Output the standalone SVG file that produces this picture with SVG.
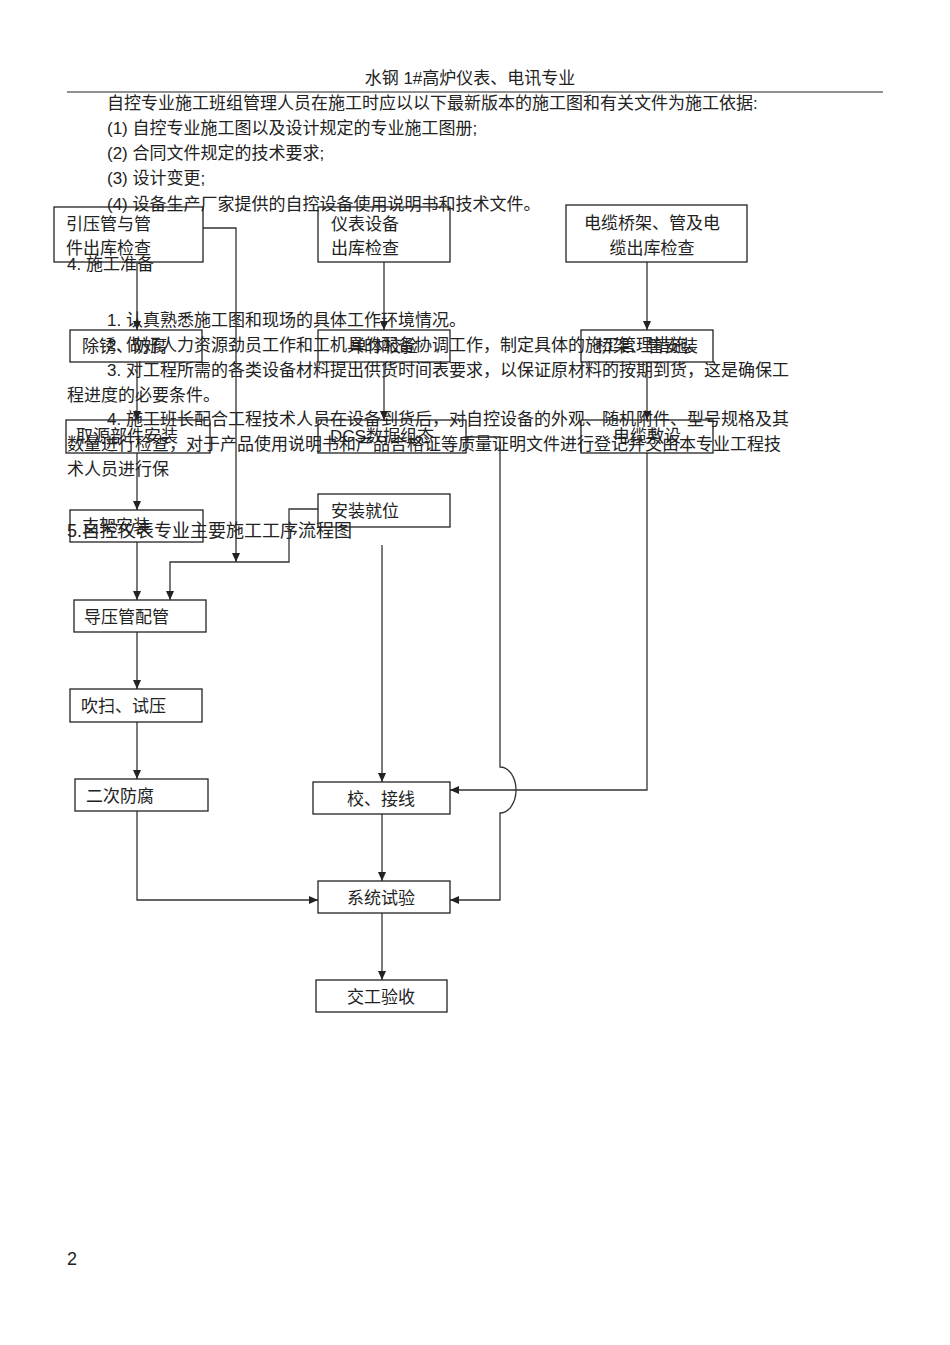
<svg xmlns="http://www.w3.org/2000/svg" width="950" height="1345" viewBox="0 0 950 1345">
<style>
text{font-family:"Liberation Sans","Noto Sans CJK SC",sans-serif;font-size:17px;fill:#222}
.b{fill:none;stroke:#222;stroke-width:1.3}
.c{fill:none;stroke:#333;stroke-width:1.3}
</style>
<defs><marker id="a" markerWidth="10" markerHeight="10" refX="9" refY="5" orient="auto" markerUnits="userSpaceOnUse"><path d="M0,1 L9,5 L0,9 z" fill="#222"/></marker></defs>
<rect width="950" height="1345" fill="#fff"/>
<g id="header">
<text x="470" y="84" text-anchor="middle">水钢 1#高炉仪表、电讯专业</text>
<line x1="67" y1="92" x2="883" y2="92" stroke="#222" stroke-width="1.2"/>
</g>
<g id="body">
<text x="107" y="109">自控专业施工班组管理人员在施工时应以以下最新版本的施工图和有关文件为施工依据:</text>
<text x="107" y="134">(1) 自控专业施工图以及设计规定的专业施工图册;</text>
<text x="107" y="159">(2) 合同文件规定的技术要求;</text>
<text x="107" y="184">(3) 设计变更;</text>
<text x="107" y="210">(4) 设备生产厂家提供的自控设备使用说明书和技术文件。</text>
<text x="67" y="270">4.   施工准备</text>
<text x="107" y="326">1. 认真熟悉施工图和现场的具体工作环境情况。</text>
<text x="107" y="351">2. 做好人力资源劲员工作和工机具的配备协调工作，制定具体的施工管理措施。</text>
<text x="107" y="376">3. 对工程所需的各类设备材料提出供货时间表要求，以保证原材料的按期到货，这是确保工</text>
<text x="67" y="401">程进度的必要条件。</text>
<text x="107" y="425">4. 施工班长配合工程技术人员在设备到货后，对自控设备的外观、随机附件、型号规格及其</text>
<text x="67" y="450">数量进行检查，对于产品使用说明书和产品合格证等质量证明文件进行登记并交由本专业工程技</text>
<text x="67" y="475">术人员进行保</text>
<text x="67" y="537" style="font-size:18px">5.自控仪表专业主要施工工序流程图</text>
<text x="67" y="1265" style="font-size:18px">2</text>
</g>
<g id="connectors">
<line class="c" x1="137" y1="262" x2="137" y2="330" marker-end="url(#a)"/>
<line class="c" x1="137" y1="362" x2="137" y2="420" marker-end="url(#a)"/>
<line class="c" x1="137" y1="453" x2="137" y2="510" marker-end="url(#a)"/>
<line class="c" x1="137" y1="542" x2="137" y2="600" marker-end="url(#a)"/>
<line class="c" x1="137" y1="632" x2="137" y2="689" marker-end="url(#a)"/>
<line class="c" x1="137" y1="722" x2="137" y2="779" marker-end="url(#a)"/>
<polyline class="c" points="203,228 236,228 236,562" marker-end="url(#a)"/>
<polyline class="c" points="318,509 289,509 289,562 170,562 170,600" marker-end="url(#a)"/>
<line class="c" x1="384" y1="262" x2="384" y2="330" marker-end="url(#a)"/>
<line class="c" x1="384" y1="362" x2="384" y2="420" marker-end="url(#a)"/>
<line class="c" x1="647" y1="262" x2="647" y2="330" marker-end="url(#a)"/>
<line class="c" x1="647" y1="362" x2="647" y2="420" marker-end="url(#a)"/>
<polyline class="c" points="647,453 647,790 450,790" marker-end="url(#a)"/>
<path class="c" d="M466,437 H500 V767 A16,23 0 0 1 500,813 V900 H450" marker-end="url(#a)"/>
<line class="c" x1="382" y1="545" x2="382" y2="782" marker-end="url(#a)"/>
<line class="c" x1="382" y1="814" x2="382" y2="881" marker-end="url(#a)"/>
<line class="c" x1="382" y1="913" x2="382" y2="980" marker-end="url(#a)"/>
<polyline class="c" points="137,811 137,900 318,900" marker-end="url(#a)"/>
</g>
<g id="n1"><rect class="b" x="54" y="207" width="149" height="55"/><text x="66" y="230">引压管与管</text><text x="66" y="254">件出库检查</text></g>
<g id="n2"><rect class="b" x="318" y="207" width="132" height="55"/><text x="331" y="230">仪表设备</text><text x="331" y="254">出库检查</text></g>
<g id="n3"><rect class="b" x="566" y="205" width="181" height="57"/><text x="652" y="229" text-anchor="middle">电缆桥架、管及电</text><text x="652" y="254" text-anchor="middle">缆出库检查</text></g>
<g id="n4"><rect class="b" x="70" y="330" width="132" height="32"/><text x="82" y="352">除锈、防腐</text></g>
<g id="n5"><rect class="b" x="318" y="330" width="132" height="32"/><text x="384" y="352" text-anchor="middle">单体校验</text></g>
<g id="n6"><rect class="b" x="581" y="330" width="132" height="32"/><text x="647" y="352" text-anchor="middle">桥架、管安装</text></g>
<g id="n7"><rect class="b" x="66" y="420" width="144" height="33"/><text x="76" y="442">取源部件安装</text></g>
<g id="n8"><rect class="b" x="318" y="420" width="148" height="33"/><text x="330" y="442">DCS数据组态</text></g>
<g id="n9"><rect class="b" x="581" y="420" width="132" height="33"/><text x="647" y="442" text-anchor="middle">电缆敷设</text></g>
<g id="n10"><rect class="b" x="318" y="494" width="132" height="33"/><text x="331" y="517">安装就位</text></g>
<g id="n11"><rect class="b" x="70" y="510" width="133" height="32"/><text x="82" y="532">支架安装</text></g>
<g id="n12"><rect class="b" x="74" y="600" width="132" height="32"/><text x="84" y="623">导压管配管</text></g>
<g id="n13"><rect class="b" x="70" y="689" width="132" height="33"/><text x="81" y="712">吹扫、试压</text></g>
<g id="n14"><rect class="b" x="75" y="779" width="133" height="32"/><text x="86" y="802">二次防腐</text></g>
<g id="n15"><rect class="b" x="313" y="782" width="137" height="32"/><text x="381" y="805" text-anchor="middle">校、接线</text></g>
<g id="n16"><rect class="b" x="318" y="881" width="132" height="32"/><text x="381" y="904" text-anchor="middle">系统试验</text></g>
<g id="n17"><rect class="b" x="316" y="980" width="131" height="32"/><text x="381" y="1003" text-anchor="middle">交工验收</text></g>
</svg>
